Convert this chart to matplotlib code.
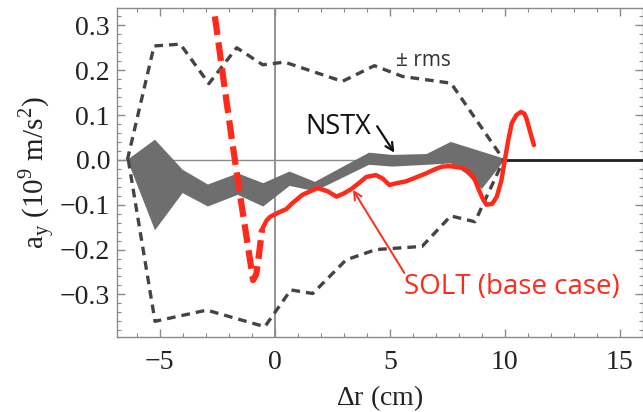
import matplotlib.pyplot as plt
import numpy as np
from matplotlib.ticker import MultipleLocator

# --- data ---
# +/- rms envelope (dashed)
rms_up_x = [-6.4, -5.24, -4.1, -2.86, -1.65, -0.52, 0.43, 2.94, 4.33, 5.55, 7.66, 9.95]
rms_up_y = [0.0, 0.254, 0.258, 0.17, 0.25, 0.212, 0.218, 0.175, 0.21, 0.186, 0.171, 0.0]
rms_lo_x = [-6.36, -5.2, -2.95, -0.43, 0.7, 1.65, 3.1, 4.4, 6.4, 7.65, 8.7, 9.95]
rms_lo_y = [0.0, -0.36, -0.335, -0.372, -0.29, -0.298, -0.223, -0.2, -0.193, -0.125, -0.138, 0.0]

# NSTX band (upper / lower edges)
nstx_up_x = [-6.4, -5.2, -4.0, -2.9, -1.6, -0.5, 0.65, 1.75, 4.1, 5.1, 6.6, 7.65, 9.95]
nstx_up_y = [0.0, 0.045, -0.022, -0.055, -0.03, -0.052, -0.026, -0.049, 0.016, 0.011, 0.013, 0.04, 0.003]
nstx_lo_x = [-6.4, -5.2, -4.0, -2.9, -1.6, -0.5, 0.65, 1.75, 4.1, 5.1, 6.6, 7.65, 8.3, 9.0, 9.95]
nstx_lo_y = [0.0, -0.157, -0.074, -0.104, -0.078, -0.104, -0.058, -0.07, -0.011, -0.015, -0.011, -0.008, -0.03, -0.065, -0.003]

# SOLT base case: dashed part then solid part
solt_d_x = [-2.6, -2.2, -1.86, -1.5, -1.2, -0.94, -0.8, -0.68, -0.55]
solt_d_y = [0.32, 0.17, 0.045, -0.08, -0.18, -0.268, -0.255, -0.21, -0.155]
solt_x = [-0.55, -0.35, -0.2, 0.22, 0.5, 0.78, 1.2, 1.55, 1.86, 2.3, 2.68, 3.0, 3.33, 3.7, 3.98,
          4.4, 4.7, 4.98, 5.3, 5.7, 6.1, 6.58, 7.0, 7.27, 7.6, 7.88, 8.2, 8.5, 8.7, 8.87, 9.05,
          9.2, 9.45, 9.65, 9.85, 10.0, 10.15, 10.3, 10.5, 10.7, 10.85, 10.95, 11.1, 11.26]
solt_y = [-0.155, -0.135, -0.127, -0.116, -0.11, -0.096, -0.078, -0.07, -0.063, -0.07, -0.082,
          -0.075, -0.065, -0.05, -0.038, -0.034, -0.042, -0.056, -0.052, -0.048, -0.04, -0.03,
          -0.02, -0.015, -0.014, -0.016, -0.018, -0.03, -0.045, -0.067, -0.088, -0.1, -0.098,
          -0.082, -0.045, 0.0, 0.045, 0.082, 0.1, 0.107, 0.103, 0.09, 0.062, 0.033]

x_major = [-5, 0, 5, 10, 15]
y_major = [-0.3, -0.2, -0.1, 0.0, 0.1, 0.2, 0.3]

plt.rcParams['font.family'] = ['Liberation Serif', 'DejaVu Serif']
plt.rcParams['mathtext.fontset'] = 'custom'
plt.rcParams['mathtext.rm'] = 'Liberation Serif'

fig = plt.figure(figsize=(6.43, 4.12), dpi=100)
ax = fig.add_axes([0.182, 0.182, 0.818, 0.799])

frame_col = '#8a8a8a'
ax.axhline(0, color='#8a8a8a', lw=1.0, zorder=1)
ax.axvline(0, color='#8a8a8a', lw=1.3, zorder=1)
ax.plot([10, 16], [0, 0], color='#222222', lw=2.0, zorder=2)

# NSTX band
poly_x = nstx_up_x + nstx_lo_x[::-1]
poly_y = nstx_up_y + nstx_lo_y[::-1]
ax.fill(poly_x, poly_y, color='#6e6e6e', lw=0, zorder=3)

# rms envelope
ax.plot(rms_up_x, rms_up_y, color='#444444', lw=2.4, dashes=(2.6, 1.8), zorder=4)
ax.plot(rms_lo_x, rms_lo_y, color='#444444', lw=2.4, dashes=(2.6, 1.8), zorder=4)

# SOLT
ax.plot(solt_d_x, solt_d_y, color='#ff2a1a', lw=4.5, dashes=(3.0, 1.2), zorder=5)
ax.plot(solt_x, solt_y, color='#ff2a1a', lw=3.2, zorder=5, solid_capstyle='round')

# annotations
ax.text(2.75, 0.074, 'NSTX', fontsize=19.5, family='Open Sans', color='#111111',
        ha='center', va='center', zorder=6)
ax.annotate('', xy=(5.2, 0.016), xytext=(4.45, 0.075),
            arrowprops=dict(arrowstyle='->', color='#111111', lw=1.6,
                            shrinkA=0, shrinkB=0, mutation_scale=14), zorder=6)
ax.text(5.6, -0.283, 'SOLT (base case)', fontsize=20, family='Open Sans', color='#ff2a1a',
        ha='left', va='center', zorder=6)
ax.annotate('', xy=(3.4, -0.067), xytext=(5.63, -0.252),
            arrowprops=dict(arrowstyle='->', color='#ff2a1a', lw=1.4,
                            shrinkA=0, shrinkB=0, mutation_scale=14), zorder=6)
ax.text(5.25, 0.221, u'\u00b1 rms', fontsize=15, family='Open Sans', color='#333333',
        ha='left', va='center', zorder=6)

ax.set_xlim(-6.85, 16)
ax.set_ylim(-0.395, 0.339)
ax.set_xticks(x_major)
ax.set_yticks(y_major)
ax.set_xticklabels([u'\u22125', '0', '5', '10', '15'])
ax.set_yticklabels([u'\u22120.3', u'\u22120.2', u'\u22120.1', '0.0', '0.1', '0.2', '0.3'])
ax.xaxis.set_minor_locator(MultipleLocator(1))
ax.yaxis.set_minor_locator(MultipleLocator(0.02))
ax.tick_params(which='both', direction='in', top=True, right=True, color=frame_col,
               labelcolor='#222222')
ax.tick_params(axis='y', labelsize=20)
ax.tick_params(axis='x', labelsize=20)
ax.tick_params(which='major', length=6, width=1.0)
ax.tick_params(axis='x', which='major', pad=9)
ax.tick_params(axis='y', which='major', pad=5)
ax.tick_params(which='minor', length=3, width=0.8)
for s in ax.spines.values():
    s.set_color(frame_col)
    s.set_linewidth(1.0)

ax.set_xlabel(r'$\Delta$r (cm)', fontsize=20, color='#222222', labelpad=6)
ax.set_ylabel(r'a$_\mathregular{y}$ (10$^\mathregular{9}$ m/s$^\mathregular{2}$)',
              fontsize=21, color='#222222', labelpad=2)

fig.savefig('out.png', dpi=100)
